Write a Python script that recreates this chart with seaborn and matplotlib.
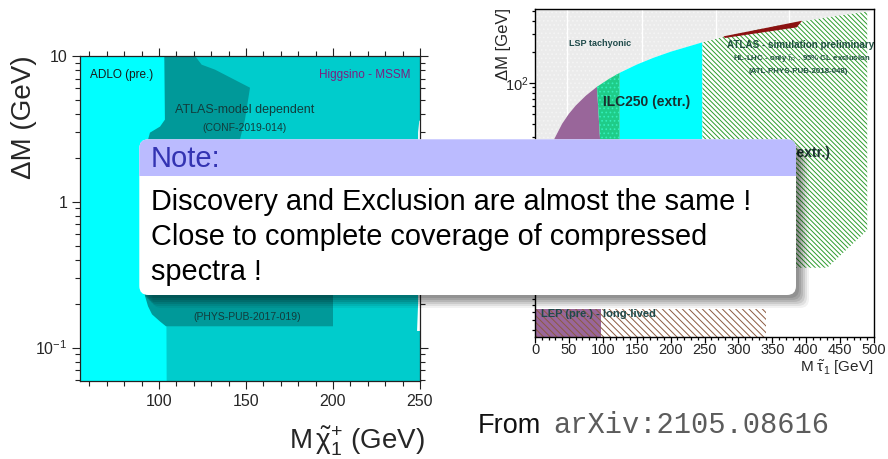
import matplotlib
matplotlib.use("Agg")
import matplotlib.pyplot as plt
from matplotlib.patches import FancyBboxPatch, Rectangle
from matplotlib.ticker import FixedLocator, FixedFormatter, MultipleLocator, LogLocator, NullFormatter
import seaborn as sns
import pandas as pd

# ---------------- Left panel: Higgsino (Delta M vs M chargino) ----------------
hig_xlim = (54.6, 250)
hig_ylim = (0.059, 10)
hig_xticks = [100, 150, 200, 250]
hig_xtick_labels = ["100", "150", "200", "250"]
hig_yticks = [0.1, 1, 10]
hig_ytick_labels = [r"$10^{-1}$", "1", "10"]

# LEP/ADLO region (cyan)
adlo_m = [54.6, 103.9, 104.0, 104.4, 54.6]
adlo_dm = [10, 10, 1.0, 0.059, 0.059]
# ATLAS model dependent region (dark teal)
atlas_m = [103.05, 120.7, 124.5, 132.2, 152.3, 149.4, 146.5, 146.5, 200, 200, 104.0,
           100.6, 96.0, 93.7, 92.0, 92.5, 93.7, 94.8, 100.6, 103.4]
atlas_dm = [10, 10, 8.72, 8.06, 6.06, 3.66, 2.67, 0.251, 0.251, 0.140, 0.140,
            0.151, 0.169, 0.192, 0.225, 1.0, 2.67, 2.98, 3.28, 3.66]
# uncovered sliver at the right edge (white)
gap_m = [249.6, 248.9, 248.9, 248.3, 250, 250]
gap_dm = [3.6, 3.0, 0.2, 0.13, 0.13, 3.6]
# dashed ADLO boundary
adlo_edge_m = [102.6, 102.6]
adlo_edge_dm = [10, 3.4]

# ---------------- Right panel: stau (Delta M vs M stau) ----------------
stau_xlim = (0, 500)
stau_ylim = (0.34, 520)
stau_yticks = [0.1, 1, 10, 100]
stau_ytick_labels = ["", "", "", r"$10^{2}$"]
# kinematic limit (LSP tachyonic above)
lsp_m = [1, 5, 10, 20, 28.6, 40, 50, 60, 75, 91.4, 110, 125, 150, 175, 200, 247, 280, 320,
         360, 400, 450, 490, 500]
lsp_dm = [1, 5, 10, 20, 28.6, 40, 50, 60, 75, 91.4, 110, 125, 150, 175, 200, 247, 280, 320,
          360, 400, 450, 490, 500]
grid_m = [47, 158, 267, 375]
# LEP (purple)
lep_m = [1, 5, 10, 20, 28.6, 40, 50, 60, 75, 91.4, 96, 97, 1]
lep_dm = [1, 5, 10, 20, 28.6, 40, 50, 60, 75, 91.4, 28, 1, 1]
# ILC250 dotted band (green)
ilcb_m = [91.4, 110, 125, 125, 97, 96]
ilcb_dm = [91.4, 110, 125, 1, 1, 28]
# ILC250 (cyan)
ilc_m = [125, 150, 175, 200, 247, 247, 125]
ilc_dm = [125, 150, 175, 200, 247, 1, 1]
# HL-LHC hatched
hl_m = [247, 280, 320, 360, 400, 450, 490, 490, 431, 247]
hl_dm = [247, 280, 320, 360, 400, 450, 490, 3.7, 1.6, 1.6]
# ATLAS run-2 sliver (dark red)
red_m = [278, 394, 386, 280]
red_dm = [282, 400, 345, 272]
# LEP long-lived
lepll_top = 0.64
lepll_purple_m = [0, 98]
lepll_hatch_m = [98, 340]

sns.set_style("ticks")
plt.rcParams["font.family"] = ["Liberation Sans", "DejaVu Sans"]
plt.rcParams["mathtext.fontset"] = "custom"
plt.rcParams["mathtext.rm"] = "Liberation Sans"
plt.rcParams["mathtext.it"] = "Liberation Sans"
plt.rcParams["mathtext.bf"] = "Liberation Sans:bold"
plt.rcParams["hatch.linewidth"] = 0.7

W, H = 888, 459
fig = plt.figure(figsize=(W / 100, H / 100), dpi=100)
fig.patch.set_facecolor("white")

def fax(l, t, r, b):
    return [l / W, 1 - b / H, (r - l) / W, (b - t) / H]

# ======== left panel ========
ax = fig.add_axes(fax(80, 56, 420, 381))
ax.set_yscale("log")
ax.set_xlim(*hig_xlim)
ax.set_ylim(*hig_ylim)
ax.fill_between([hig_xlim[0], hig_xlim[1]], hig_ylim[0], hig_ylim[1], color="#00cccc", lw=0, zorder=1)
ax.fill(adlo_m, adlo_dm, color="#00ffff", lw=0, zorder=2)
ax.fill(atlas_m, atlas_dm, color="#009999", lw=0, zorder=3)
ax.fill(gap_m, gap_dm, color="white", lw=0, zorder=3)
edge_df = pd.DataFrame({"m": adlo_edge_m, "dm": adlo_edge_dm})
sns.lineplot(data=edge_df, x="m", y="dm", ax=ax, color="white", lw=0.8, alpha=0.6,
             dashes=False, zorder=4, linestyle=(0, (3, 2)))

ax.xaxis.set_major_locator(FixedLocator(hig_xticks))
ax.xaxis.set_major_formatter(FixedFormatter(hig_xtick_labels))
ax.xaxis.set_minor_locator(MultipleLocator(10))
ax.yaxis.set_major_locator(FixedLocator(hig_yticks))
ax.yaxis.set_major_formatter(FixedFormatter(hig_ytick_labels))
ax.yaxis.set_minor_locator(LogLocator(base=10, subs=range(2, 10)))
ax.yaxis.set_minor_formatter(NullFormatter())
ax.tick_params(which="both", direction="out", top=True, right=True, width=0.8, color="#222222")
ax.tick_params(which="major", length=6, labelsize=11.5, pad=3)
ax.tick_params(which="minor", length=3.5)
for s in ax.spines.values():
    s.set_linewidth(0.9)
    s.set_color("#222222")
    s.set_zorder(6)

ax.set_xlabel(r"M$\,\tilde{\chi}^{+}_{1}$ (GeV)", fontsize=20, loc="right")
ax.xaxis.label.set_va("baseline")
ax.xaxis.set_label_coords((425 - 80) / 340, -(448 - 381) / 325)
ax.set_ylabel("ΔM (GeV)", fontsize=20, loc="top")
ax.yaxis.set_label_coords((37 - 80) / 340, 1 + 1 / 325)

txt_dark = "#123c3c"
ax.text(60.3, 7.45, "ADLO (pre.)", fontsize=8.5, color="#1a1a1a", va="center", ha="left", zorder=7)
ax.text(244.8, 7.45, "Higgsino - MSSM", fontsize=8.5, color="#7d1f80", va="center", ha="right", zorder=7)
ax.text(149.4, 4.29, "ATLAS-model dependent", fontsize=9, color=txt_dark, va="center", ha="center", zorder=7)
ax.text(149.0, 3.23, "(CONF-2019-014)", fontsize=7.5, color=txt_dark, va="center", ha="center", zorder=7)
ax.text(150.5, 0.161, "(PHYS-PUB-2017-019)", fontsize=7.5, color=txt_dark, va="center", ha="center", zorder=7)

# ======== right panel ========
bx = fig.add_axes(fax(535, 9, 874, 337))
bx.set_yscale("log")
bx.set_xlim(*stau_xlim)
bx.set_ylim(*stau_ylim)
bx.set_facecolor("white")
bx.fill_between(lsp_m, lsp_dm, stau_ylim[1], facecolor="#ebebeb", edgecolor="#f4f4f4",
                hatch="....", lw=0, zorder=1)
bx.fill_between([0, lsp_m[0]], stau_ylim[0], stau_ylim[1], facecolor="#ebebeb", lw=0, zorder=1)
bx.vlines(grid_m, stau_ylim[0], stau_ylim[1], colors="white", lw=1.0, zorder=1.5)
bx.fill_between(lsp_m, stau_ylim[0], lsp_dm, color="white", lw=0, zorder=2)

bx.fill(lep_m, lep_dm, color="#99669a", lw=0, zorder=3)
bx.fill(ilcb_m, ilcb_dm, facecolor="#1fcc88", edgecolor="#33eebb", hatch="....", lw=0, zorder=3)
bx.fill(ilc_m, ilc_dm, color="#00ffff", lw=0, zorder=3)
bx.fill(hl_m, hl_dm, facecolor="white", edgecolor="#2c9c2c", hatch="\\\\\\\\\\\\\\", lw=0, zorder=3)
bx.fill(red_m, red_dm, color="#8b1212", lw=0, zorder=4)

bx.fill_between(lepll_purple_m, stau_ylim[0], lepll_top, facecolor="#99669a", lw=0, zorder=3)
bx.fill_between(lepll_purple_m + lepll_hatch_m[1:], stau_ylim[0], lepll_top, facecolor="none",
                edgecolor="#8c5a40", hatch="\\\\\\\\\\", lw=0, zorder=4)

lab = "#1f4a4a"
bx.text(50.1, 239, "LSP tachyonic", fontsize=6.5, weight="bold", color=lab, va="center", ha="left", zorder=6)
bx.text(100.3, 65.4, "ILC250 (extr.)", fontsize=10, weight="bold", color="#1a3030", va="center", ha="left", zorder=6)
bx.text(435, 20.9, "HL-LHC (extr.)", fontsize=10, weight="bold", color="#1a3030", va="center", ha="right", zorder=6)
bx.text(392, 234, "ATLAS - simulation preliminary", fontsize=7.1, weight="bold", color="#1f5040",
        va="center", ha="center", zorder=6)
bx.text(393, 171, r"HL-LHC - only $\tilde{\tau}_R$ : 95% CL exclusion", fontsize=5.7, weight="bold",
        color="#1f5040", va="center", ha="center", zorder=6)
bx.text(389, 128, "(ATL-PHYS-PUB-2018-048)", fontsize=5.7, weight="bold", color="#1f5040",
        va="center", ha="center", zorder=6)
bx.text(8.8, 0.57, "LEP (pre.) - long-lived", fontsize=8, weight="bold", color=lab, va="center",
        ha="left", zorder=6)

bx.xaxis.set_major_locator(MultipleLocator(50))
bx.xaxis.set_minor_locator(MultipleLocator(10))
bx.yaxis.set_major_locator(FixedLocator(stau_yticks))
bx.yaxis.set_major_formatter(FixedFormatter(stau_ytick_labels))
bx.yaxis.set_minor_locator(LogLocator(base=10, subs=range(2, 10)))
bx.yaxis.set_minor_formatter(NullFormatter())
bx.tick_params(which="both", direction="out", width=0.9, color="black")
bx.tick_params(which="major", length=4, labelsize=10.5, pad=0.5)
bx.tick_params(which="minor", length=2.5)
for s in bx.spines.values():
    s.set_linewidth(1.0)
    s.set_color("black")
    s.set_zorder(7)
bx.set_xlabel(r"M $\tilde{\tau}_1$ [GeV]", fontsize=11, loc="right")
bx.xaxis.label.set_va("baseline")
bx.xaxis.set_label_coords(1.0, -(372 - 337) / 328)
bx.set_ylabel("ΔM [GeV]", fontsize=12, loc="top")
bx.yaxis.set_label_coords((511 - 535) / 339, (337 - 8) / 328)

# ======== overlay: note box and source ========
ov = fig.add_axes([0, 0, 1, 1], zorder=10)
ov.set_xlim(0, W)
ov.set_ylim(H, 0)
ov.axis("off")
ov.patch.set_alpha(0)

x0, y0, x1, y1 = 139.3, 139.3, 796, 295
hb = 176
rs = 9
for off, a in [(13, 0.05), (11, 0.07), (9, 0.09), (7, 0.1), (5, 0.1), (3, 0.1)]:
    ov.add_patch(FancyBboxPatch((x0 + off, y0 + off), x1 - x0, y1 - y0,
                                boxstyle=f"round,pad=0,rounding_size={rs}",
                                facecolor="black", edgecolor="none", alpha=a))
ov.add_patch(FancyBboxPatch((x0, y0), x1 - x0, y1 - y0, boxstyle=f"round,pad=0,rounding_size={rs}",
                            facecolor="white", edgecolor="none"))
head = FancyBboxPatch((x0, y0), x1 - x0, y1 - y0, boxstyle=f"round,pad=0,rounding_size={rs}",
                      facecolor="#bbbbff", edgecolor="none")
ov.add_patch(head)
clip = Rectangle((x0 - 2, y0 - 2), x1 - x0 + 4, hb - y0 + 2, transform=ov.transData)
head.set_clip_path(clip)

ov.text(151, 167, "Note:", fontsize=21, color="#3333b2", va="baseline", ha="left")
body = ["Discovery and Exclusion are almost the same !",
        "Close to complete coverage of compressed",
        "spectra !"]
for i, line in enumerate(body):
    ov.text(151, 210 + 35 * i, line, fontsize=20.8, color="black", va="baseline", ha="left")

ov.text(478, 433, "From", fontsize=19.5, color="#111111", va="baseline", ha="left")
ov.text(553, 433, "arXiv:2105.08616", fontsize=20.7, family=["Liberation Mono", "DejaVu Sans Mono"],
        color="#5c5c5c", va="baseline", ha="left")

fig.savefig("out.png", dpi=100)
